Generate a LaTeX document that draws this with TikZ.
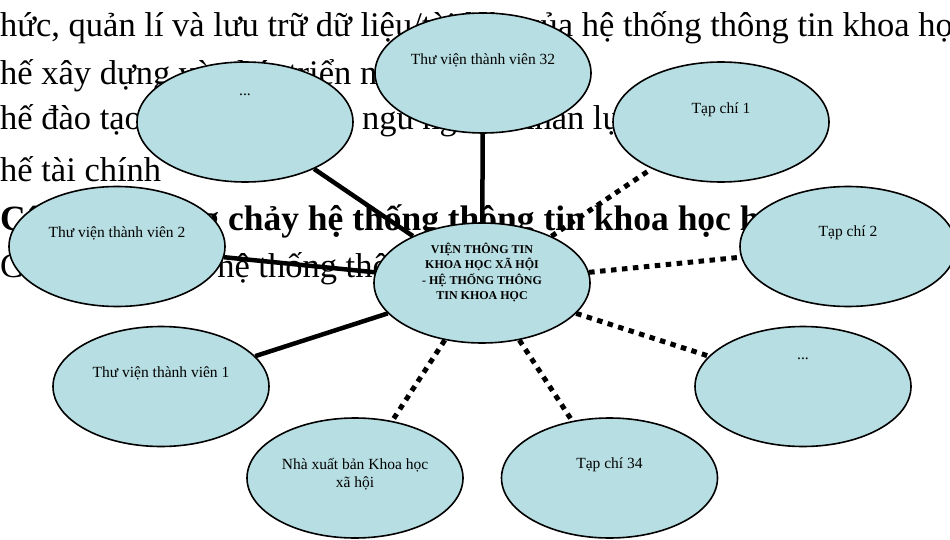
\documentclass[tikz,border=0pt]{standalone}
\usepackage{fontspec}
\setmainfont{Liberation Serif}
\usepackage{tikz}
\usetikzlibrary{shapes.geometric}
\usetikzlibrary{calc}

\pgfdeclarelayer{page}
\pgfdeclarelayer{links}
\pgfsetlayers{page,links,main}

\definecolor{bubble}{RGB}{183,222,226}

\tikzset{
    member/.style={ellipse, draw=black, line width=1.6pt, fill=bubble,
                   minimum width=216pt, minimum height=120pt, inner sep=0pt},
    bubbletext/.style={font=\fontsize{15.5}{18}\selectfont, align=center, inner sep=0pt},
    hubtext/.style={font=\fontsize{12}{15.6}\selectfont\bfseries, align=center, inner sep=0pt},
    pagetext/.style={anchor=base west, inner sep=0pt, font=\fontsize{34.5}{40}\selectfont},
    pagehead/.style={anchor=base west, inner sep=0pt, font=\fontsize{35.5}{40}\selectfont\bfseries},
    strong link/.style={line width=4.5pt},
    weak link/.style={line width=5pt, dash pattern=on 5.5pt off 5.5pt},
}

\begin{document}
\begin{tikzpicture}[x=1pt, y=-1pt]
                    \useasboundingbox (0,0) rectangle (950,540);

                    % text of the page behind the chart
                    \begin{pgfonlayer}{page}
                      \node[pagetext] (row1) at (0,37) {hức, quản lí và lưu trữ dữ liệu/tài liệu của hệ thống thông tin khoa học};
                      \node[pagetext] (row2) at (0,85) {hế xây dựng và phát triển nguồn lực};
                      \node[pagetext] (row3) at (0,130) {hế đào tạo, bồi dưỡng đội ngũ nguồn nhân lực};
                      \node[pagetext] (row4) at (0,182) {hế tài chính};
                      \node[pagehead] (row5) at (0,230) {Cấu trúc dòng chảy hệ thống thông tin khoa học hoạt động};
                      \node[pagetext] (row6) at (0,277) {Cơ cấu tổ chức hệ thống thông tin};
                    \end{pgfonlayer}

                    \node[member] (hub) at (482,283) {};
                    \node[member] (tv32) at (483,73) {};
                    \node[member] (dotsA) at (245,122) {};
                    \node[member] (tc1) at (721,122) {};
                    \node[member] (tv2) at (117,246.5) {};
                    \node[member] (tc2) at (848,246.5) {};
                    \node[member] (tv1) at (161,386.5) {};
                    \node[member] (dotsB) at (803,386.5) {};
                    \node[member] (nxb) at (355,478) {};
                    \node[member] (tc34) at (609.5,478) {};

                    \node[hubtext] (hub-t) at ([yshift=10.5pt]hub.center)
                        {VIỆN THÔNG TIN\\KHOA HỌC XÃ HỘI\\- HỆ THỐNG THÔNG\\TIN KHOA HỌC};
                    \node[bubbletext] (tv32-t) at ([yshift=13pt]tv32.center) {Thư viện thành viên 32};
                    \node[bubbletext, anchor=base] (dotsA-t) at ([yshift=26pt]dotsA.center) {...};
                    \node[bubbletext] (tc1-t) at ([yshift=12pt]tc1.center) {Tạp chí 1};
                    \node[bubbletext] (tv2-t) at ([yshift=13.5pt]tv2.center) {Thư viện thành viên 2};
                    \node[bubbletext] (tc2-t) at ([yshift=13.5pt]tc2.center) {Tạp chí 2};
                    \node[bubbletext] (tv1-t) at ([yshift=13.5pt]tv1.center) {Thư viện thành viên 1};
                    \node[bubbletext, anchor=base] (dotsB-t) at ([yshift=27.5pt]dotsB.center) {...};
                    \node[bubbletext] (nxb-t) at ([yshift=4pt]nxb.center) {Nhà xuất bản Khoa học\\xã hội};
                    \node[bubbletext] (tc34-t) at ([yshift=13pt]tc34.center) {Tạp chí 34};

                    \begin{pgfonlayer}{links}
                      \draw[strong link] (hub) -- (tv32);
                      \draw[strong link] (hub) -- (dotsA);
                      \draw[strong link] (hub) -- (tv2);
                      \draw[strong link] (hub) -- (tv1);
                      \draw[weak link] (hub) -- (tc1);
                      \draw[weak link] (hub) -- (tc2);
                      \draw[weak link] (hub) -- (dotsB);
                      \draw[weak link] (hub) -- (tc34);
                      \draw[weak link] (hub) -- (nxb);
                    \end{pgfonlayer}
\end{tikzpicture}
\end{document}
